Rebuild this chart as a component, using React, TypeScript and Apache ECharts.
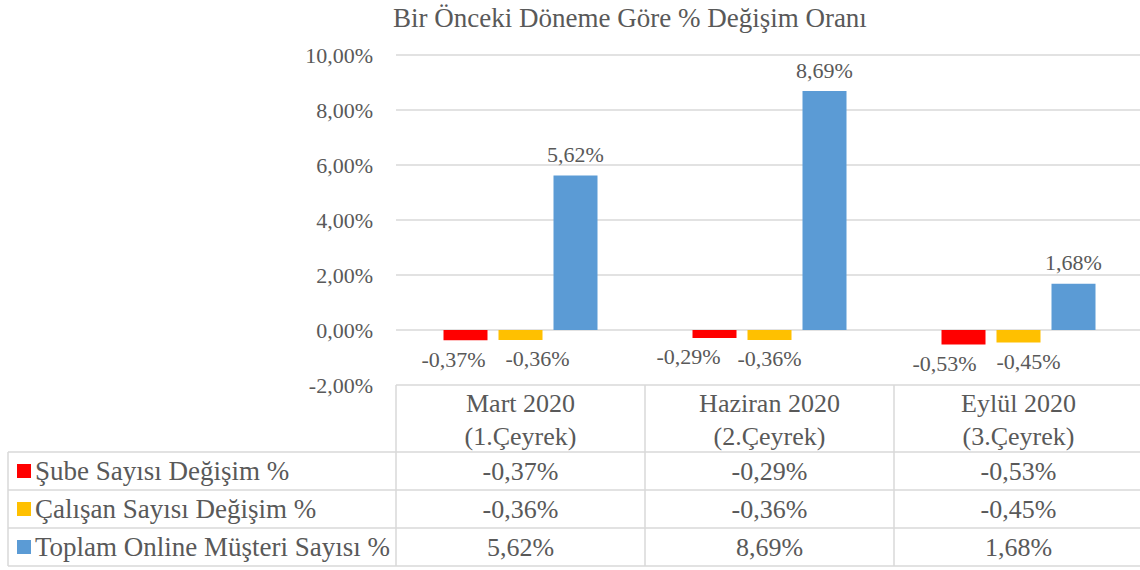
import React, { useEffect, useRef } from "react";
import * as echarts from "echarts";

// Chart content
const chartTitle = "Bir Önceki Döneme Göre % Değişim Oranı";
const periods = ["Mart 2020", "Haziran 2020", "Eylül 2020"];
const quarters = ["(1.Çeyrek)", "(2.Çeyrek)", "(3.Çeyrek)"];
const seriesNames = [
  "Şube Sayısı Değişim %",
  "Çalışan Sayısı Değişim %",
  "Toplam Online Müşteri Sayısı %",
];
const subeChange = [-0.37, -0.29, -0.53];
const calisanChange = [-0.36, -0.36, -0.45];
const onlineChange = [5.62, 8.69, 1.68];
const yMin = -2;
const yMax = 10;
const yStep = 2;

// Styling / layout
const colors = ["#FF0000", "#FFC000", "#5B9BD5"];
const textColor = "#595959";
const lineColor = "#D9D9D9";
const font = "Liberation Serif";
const axisFontSize = 22;
const tableFontSize = 26;
const legendFontSize = 27;
const gridLeft = 396;
const gridTop = 55;
const gridWidth = 747;
const gridHeight = 330;
const rowLines = [452, 490, 528, 566];
const tableLeft = 8;
// small horizontal nudges so neighbouring negative labels do not collide
const redLabelShift = [-12, -26, -19];
const yellowLabelShift = [17, 0, 10];

const fmt = (v: number) => v.toFixed(2).replace(".", ",") + "%";

export default function App() {
  const ref = useRef<HTMLDivElement>(null);

  useEffect(() => {
    if (!ref.current) return;
    const chart = echarts.init(ref.current, undefined, { renderer: "svg" });
    const allSeries = [subeChange, calisanChange, onlineChange];
    const shifts = [redLabelShift, yellowLabelShift, [0, 0, 0]];

    const series = allSeries.map((vals, s) => ({
      name: seriesNames[s],
      type: "bar",
      barWidth: 44,
      barGap: "25%",
      itemStyle: { color: colors[s] },
      data: vals.map((v, i) => ({
        value: v,
        label: {
          position: v < 0 ? "bottom" : "top",
          distance: v < 0 ? 8 : 10,
          offset: [shifts[s][i], 0],
        },
      })),
      label: {
        show: true,
        formatter: (p: any) => fmt(p.value),
        color: textColor,
        fontFamily: font,
        fontSize: axisFontSize,
      },
    }));

    chart.setOption({
      animation: false,
      textStyle: { fontFamily: font },
      grid: { left: gridLeft, top: gridTop, width: gridWidth, height: gridHeight },
      xAxis: {
        type: "category",
        data: periods,
        position: "bottom",
        axisLine: { show: false, onZero: false },
        axisTick: { show: false },
        axisLabel: {
          margin: 2,
          color: textColor,
          fontFamily: font,
          fontSize: tableFontSize,
          lineHeight: 33,
          formatter: (v: string, i: number) => v + "\n" + quarters[i],
        },
      },
      yAxis: {
        type: "value",
        min: yMin,
        max: yMax,
        interval: yStep,
        axisLine: { show: false },
        axisTick: { show: false },
        splitLine: { lineStyle: { color: lineColor, width: 1.5 } },
        axisLabel: {
          margin: 23,
          color: textColor,
          fontFamily: font,
          fontSize: axisFontSize,
          formatter: (v: number) => fmt(v),
        },
      },
      series,
    });

    // Data table under the plot, aligned with the category axis
    const catX = periods.map((_, i) => chart.convertToPixel({ xAxisIndex: 0 }, i) as number);
    const half = gridWidth / periods.length / 2;
    const bounds = [gridLeft, ...catX.map((x) => x + half)];
    const bottom = gridTop + gridHeight;
    const right = gridLeft + gridWidth;
    const graphics: any[] = [];
    const line = (x1: number, y1: number, x2: number, y2: number) =>
      graphics.push({
        type: "line",
        shape: { x1, y1, x2, y2 },
        style: { stroke: lineColor, lineWidth: 1.5 },
        silent: true,
      });
    const textStyle = (extra: any) => ({
      fill: textColor,
      fontFamily: font,
      fontSize: tableFontSize,
      ...extra,
    });

    rowLines.forEach((y) => line(tableLeft, y, right, y));
    line(tableLeft, rowLines[0], tableLeft, rowLines[rowLines.length - 1]);
    bounds.forEach((x) => line(x, bottom, x, rowLines[rowLines.length - 1]));

    graphics.push({
      type: "text",
      x: 393,
      y: 18,
      style: textStyle({ text: chartTitle, fontSize: legendFontSize, verticalAlign: "middle" }),
    });

    allSeries.forEach((vals, s) => {
      const yc = (rowLines[s] + rowLines[s + 1]) / 2;
      graphics.push({
        type: "rect",
        shape: { x: 17, y: yc - 7, width: 14, height: 14 },
        style: { fill: colors[s] },
      });
      graphics.push({
        type: "text",
        x: 35,
        y: yc,
        style: textStyle({ text: seriesNames[s], fontSize: legendFontSize, verticalAlign: "middle" }),
      });
      vals.forEach((v, i) => {
        graphics.push({
          type: "text",
          x: catX[i],
          y: yc,
          style: textStyle({ text: fmt(v), align: "center", verticalAlign: "middle" }),
        });
      });
    });

    chart.setOption({ graphic: graphics });

    return () => chart.dispose();
  }, []);

  return (
    <div
      style={{
        position: "fixed",
        left: 0,
        top: 0,
        width: 1140,
        height: 570,
        overflow: "hidden",
        background: "#fff",
      }}
    >
      <div ref={ref} style={{ width: 1146, height: 570 }} />
    </div>
  );
}
